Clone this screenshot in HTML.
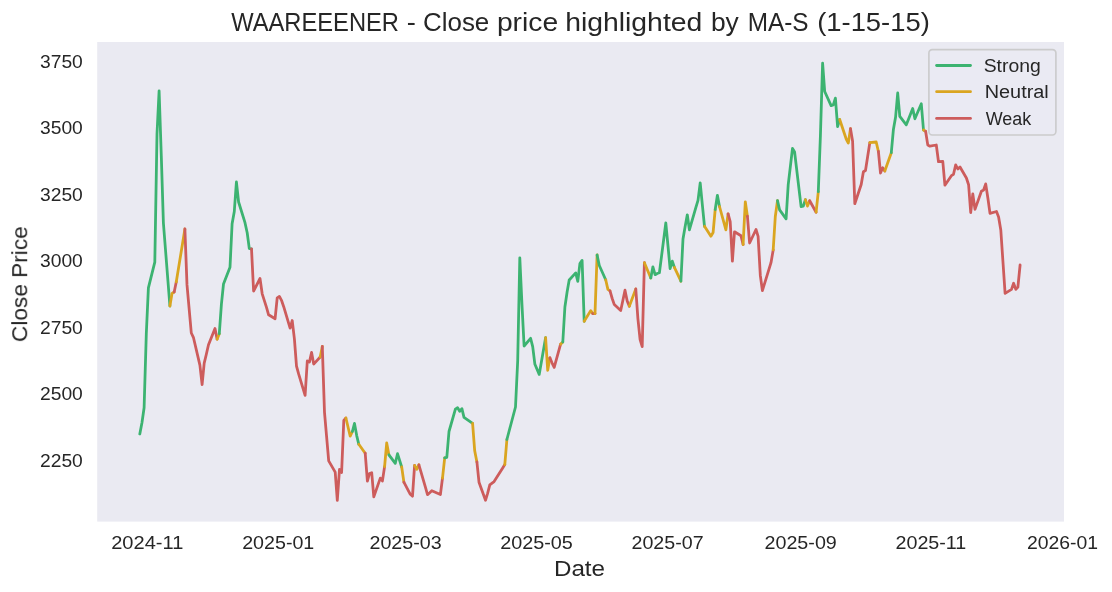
<!DOCTYPE html>
<html><head><meta charset="utf-8"><title>WAAREEENER</title>
<style>html,body{margin:0;padding:0;background:#fff;}svg{display:block;}</style></head>
<body><svg width="1112" height="592" viewBox="0 0 1112 592">
<rect x="0" y="0" width="1112" height="592" fill="#ffffff"/>
<rect x="97.2" y="42.0" width="966.8" height="479.6" fill="#EAEAF2"/>
<g fill="none" stroke-width="2.78" stroke-linecap="round" stroke-linejoin="round">
<path d="M139.8 434.0 L142.0 422.5 L144.1 407.8 L146.3 334.0 L148.4 287.9 L154.8 262.2 L157.0 134.0 L159.1 90.8 L161.3 156.0 L163.4 223.0 L169.9 306.0" stroke="#3CB371"/>
<path d="M169.9 306.0 L172.0 293.4 L174.2 292.0" stroke="#DAA520"/>
<path d="M174.2 292.0 L176.3 281.8" stroke="#CD5C5C"/>
<path d="M176.3 281.8 L184.9 229.0" stroke="#DAA520"/>
<path d="M184.9 229.0 L187.0 284.9 L191.3 333.0 L193.5 337.7 L199.9 365.1 L202.1 384.6 L204.2 363.1 L206.4 354.0 L208.5 344.8 L215.0 328.5 L217.1 339.2" stroke="#CD5C5C"/>
<path d="M217.1 339.2 L219.3 333.7" stroke="#DAA520"/>
<path d="M219.3 333.7 L221.4 304.3 L223.5 284.0 L230.0 267.2 L232.1 223.7 L234.3 211.5 L236.4 182.0 L238.6 202.0 L245.0 222.7 L247.2 232.8 L249.3 248.6 L251.5 248.8" stroke="#3CB371"/>
<path d="M251.5 248.8 L253.6 291.0 L260.0 278.5 L262.2 293.8 L266.5 307.4 L268.6 314.8 L275.1 318.7 L277.2 297.8 L279.4 296.4 L281.5 300.3 L283.7 306.7 L290.1 328.2 L292.2 320.5 L294.4 338.8 L296.5 366.1 L298.7 374.2 L305.1 395.4 L307.3 361.0 L309.4 362.1 L311.6 352.4 L313.7 364.1 L320.2 357.0" stroke="#CD5C5C"/>
<path d="M320.2 357.0 L322.3 346.4" stroke="#DAA520"/>
<path d="M322.3 346.4 L324.5 412.3 L326.6 436.6 L328.7 460.9 L335.2 472.1 L337.3 500.4 L339.5 469.4 L341.6 472.5 L343.8 420.4 L345.9 418.0" stroke="#CD5C5C"/>
<path d="M345.9 418.0 L350.2 436.2 L352.4 431.5" stroke="#DAA520"/>
<path d="M352.4 431.5 L354.5 423.4 L356.7 435.6 L358.8 444.3" stroke="#3CB371"/>
<path d="M358.8 444.3 L365.2 453.2" stroke="#DAA520"/>
<path d="M365.2 453.2 L367.4 481.2 L369.5 473.5 L371.7 472.7 L373.8 496.9 L380.3 478.1 L382.4 481.0 L384.6 466.6" stroke="#CD5C5C"/>
<path d="M384.6 466.6 L386.7 442.9 L388.9 454.8" stroke="#DAA520"/>
<path d="M388.9 454.8 L395.3 463.3 L397.5 453.7 L401.7 467.0" stroke="#3CB371"/>
<path d="M401.7 467.0 L403.9 482.2" stroke="#DAA520"/>
<path d="M403.9 482.2 L410.3 494.3 L412.5 496.2 L414.6 465.4" stroke="#CD5C5C"/>
<path d="M414.6 465.4 L416.8 469.4 L418.9 464.8" stroke="#DAA520"/>
<path d="M418.9 464.8 L425.4 487.2 L427.5 494.7 L429.7 492.7 L431.8 490.7 L440.4 494.5 L442.5 478.1" stroke="#CD5C5C"/>
<path d="M442.5 478.1 L444.7 457.9" stroke="#DAA520"/>
<path d="M444.7 457.9 L446.8 457.3 L449.0 431.5 L455.4 409.2 L457.6 407.7 L459.7 411.3 L461.9 408.6 L464.0 417.3 L472.6 423.4" stroke="#3CB371"/>
<path d="M472.6 423.4 L474.7 450.8 L476.9 461.9" stroke="#DAA520"/>
<path d="M476.9 461.9 L479.0 482.2 L485.5 500.3 L487.6 493.3 L489.8 484.8 L494.1 481.6 L502.7 468.0 L504.8 464.6" stroke="#CD5C5C"/>
<path d="M504.8 464.6 L506.9 439.5" stroke="#DAA520"/>
<path d="M506.9 439.5 L515.5 407.0 L517.7 360.8 L519.8 257.8 L522.0 305.0 L524.1 346.0 L530.6 338.3 L532.7 346.6 L534.9 364.3 L539.2 374.4 L545.6 337.7" stroke="#3CB371"/>
<path d="M545.6 337.7 L547.7 370.3 L549.9 357.8" stroke="#DAA520"/>
<path d="M549.9 357.8 L552.0 362.8 L554.2 367.4 L560.6 344.2" stroke="#CD5C5C"/>
<path d="M560.6 344.2 L562.8 342.0" stroke="#DAA520"/>
<path d="M562.8 342.0 L564.9 307.0 L567.1 292.0 L569.2 280.0 L575.7 272.9 L577.8 281.4 L579.9 263.6 L582.1 260.4 L584.2 321.3" stroke="#3CB371"/>
<path d="M584.2 321.3 L590.7 310.6 L592.8 313.6" stroke="#DAA520"/>
<path d="M592.8 313.6 L595.0 313.6" stroke="#CD5C5C"/>
<path d="M595.0 313.6 L597.1 255.0" stroke="#DAA520"/>
<path d="M597.1 255.0 L599.3 265.5 L605.7 279.8" stroke="#3CB371"/>
<path d="M605.7 279.8 L607.9 289.4 L610.0 290.9" stroke="#DAA520"/>
<path d="M610.0 290.9 L612.2 298.5 L614.3 304.6 L620.7 310.5 L622.9 300.3 L625.0 290.2 L627.2 301.0 L629.3 306.2" stroke="#CD5C5C"/>
<path d="M629.3 306.2 L635.8 289.0" stroke="#DAA520"/>
<path d="M635.8 289.0 L637.9 318.6 L640.1 339.5 L642.2 346.6 L644.4 262.7" stroke="#CD5C5C"/>
<path d="M644.4 262.7 L650.8 278.0" stroke="#DAA520"/>
<path d="M650.8 278.0 L652.9 266.8 L655.1 274.7 L657.2 273.5 L659.4 272.8 L665.8 223.0 L668.0 246.0 L670.1 268.7 L672.3 261.1 L674.4 267.4" stroke="#3CB371"/>
<path d="M674.4 267.4 L680.9 281.2" stroke="#DAA520"/>
<path d="M680.9 281.2 L683.0 238.9 L685.1 226.7 L687.3 214.8 L689.4 229.8 L695.9 207.3 L698.0 200.4 L700.2 183.0 L702.3 204.4 L704.5 226.3" stroke="#3CB371"/>
<path d="M704.5 226.3 L710.9 236.2 L713.1 232.5 L715.2 209.5" stroke="#DAA520"/>
<path d="M715.2 209.5 L717.4 195.3 L719.5 206.5" stroke="#3CB371"/>
<path d="M719.5 206.5 L725.9 229.8 L728.1 213.8" stroke="#DAA520"/>
<path d="M728.1 213.8 L730.2 221.7 L732.4 261.1 L734.5 231.8 L741.0 235.8 L743.1 244.5" stroke="#CD5C5C"/>
<path d="M743.1 244.5 L745.3 201.8 L747.4 216.1" stroke="#DAA520"/>
<path d="M747.4 216.1 L749.6 243.0 L756.0 229.5 L758.1 236.3 L760.3 275.2 L762.4 290.6 L771.0 262.7 L773.2 249.9" stroke="#CD5C5C"/>
<path d="M773.2 249.9 L775.3 216.5 L777.5 200.6" stroke="#DAA520"/>
<path d="M777.5 200.6 L779.6 209.9 L786.1 218.9 L788.2 184.9 L792.5 148.4 L794.6 152.0 L801.1 206.6 L803.2 206.2 L805.4 199.6" stroke="#3CB371"/>
<path d="M805.4 199.6 L807.5 206.1 L809.7 200.7" stroke="#DAA520"/>
<path d="M809.7 200.7 L816.1 212.2" stroke="#CD5C5C"/>
<path d="M816.1 212.2 L818.3 191.7" stroke="#DAA520"/>
<path d="M818.3 191.7 L820.4 136.0 L822.6 63.2 L824.7 91.5 L831.1 105.6 L833.3 104.9 L835.4 98.2 L837.6 126.6 L839.7 119.5" stroke="#3CB371"/>
<path d="M839.7 119.5 L846.2 139.0 L848.3 143.0 L850.5 128.7" stroke="#DAA520"/>
<path d="M850.5 128.7 L852.6 141.3 L854.8 203.7 L861.2 184.5 L863.4 171.8 L865.5 170.5 L869.8 142.7" stroke="#CD5C5C"/>
<path d="M869.8 142.7 L876.2 142.0 L878.4 151.5" stroke="#DAA520"/>
<path d="M878.4 151.5 L880.5 173.0 L882.7 167.7 L884.8 171.0" stroke="#CD5C5C"/>
<path d="M884.8 171.0 L891.3 152.7" stroke="#DAA520"/>
<path d="M891.3 152.7 L893.4 129.5 L895.6 117.0 L897.7 93.0 L899.8 116.4 L906.3 124.8 L908.4 119.4 L912.7 108.5 L914.9 118.8 L921.3 103.8 L923.5 130.0" stroke="#3CB371"/>
<path d="M923.5 130.0 L925.6 131.3" stroke="#DAA520"/>
<path d="M925.6 131.3 L927.8 145.1 L929.9 146.2 L936.3 145.0 L938.5 161.7 L942.8 161.5 L944.9 185.2 L951.4 175.7 L953.5 174.3 L955.7 164.8 L957.8 169.0 L960.0 167.0 L966.4 178.0 L968.6 184.7 L970.7 212.5 L972.8 194.0 L975.0 209.4 L981.4 191.3 L983.6 190.0 L985.7 183.9 L987.9 198.2 L990.0 213.4 L996.5 211.5 L998.6 217.0 L1000.8 230.0 L1002.9 261.0 L1005.1 293.4 L1011.5 289.4 L1013.6 283.3 L1015.8 289.4 L1017.9 287.0 L1020.1 265.0" stroke="#CD5C5C"/>
</g>
<rect x="928.9" y="49.6" width="127.0" height="85.4" rx="3.4" ry="3.4" fill="#EAEAF2" fill-opacity="0.8" stroke="#CBCBCC" stroke-width="1.65"/>
<line x1="936.6" x2="970.5" y1="65.5" y2="65.5" stroke="#3CB371" stroke-width="2.78" stroke-linecap="round"/>
<line x1="936.6" x2="970.5" y1="91.7" y2="91.7" stroke="#DAA520" stroke-width="2.78" stroke-linecap="round"/>
<line x1="936.6" x2="970.5" y1="118.4" y2="118.4" stroke="#CD5C5C" stroke-width="2.78" stroke-linecap="round"/>
<g fill="#262626" font-family='"Liberation Sans", sans-serif' style="opacity:0.999">
<text x="231.2" y="31.0" font-size="25.40" textLength="167.8" lengthAdjust="spacingAndGlyphs">WAAREEENER</text>
<text x="406.7" y="31.0" font-size="25.40" textLength="9.1" lengthAdjust="spacingAndGlyphs">-</text>
<text x="423.0" y="31.0" font-size="25.40" textLength="66.3" lengthAdjust="spacingAndGlyphs">Close</text>
<text x="496.9" y="31.0" font-size="25.40" textLength="61.2" lengthAdjust="spacingAndGlyphs">price</text>
<text x="565.2" y="31.0" font-size="25.40" textLength="137.1" lengthAdjust="spacingAndGlyphs">highlighted</text>
<text x="710.9" y="31.0" font-size="25.40" textLength="27.9" lengthAdjust="spacingAndGlyphs">by</text>
<text x="747.7" y="31.0" font-size="25.40" textLength="60.9" lengthAdjust="spacingAndGlyphs">MA-S</text>
<text x="817.2" y="31.0" font-size="25.40" textLength="112.6" lengthAdjust="spacingAndGlyphs">(1-15-15)</text>
<text x="111.2" y="549.3" font-size="17.60" textLength="72.1" lengthAdjust="spacingAndGlyphs">2024-11</text>
<text x="242.2" y="549.3" font-size="17.60" textLength="72.1" lengthAdjust="spacingAndGlyphs">2025-01</text>
<text x="369.5" y="549.3" font-size="17.60" textLength="72.1" lengthAdjust="spacingAndGlyphs">2025-03</text>
<text x="500.2" y="549.3" font-size="17.60" textLength="72.6" lengthAdjust="spacingAndGlyphs">2025-05</text>
<text x="631.5" y="549.3" font-size="17.60" textLength="72.1" lengthAdjust="spacingAndGlyphs">2025-07</text>
<text x="764.5" y="549.3" font-size="17.60" textLength="72.3" lengthAdjust="spacingAndGlyphs">2025-09</text>
<text x="895.5" y="549.3" font-size="17.60" textLength="70.8" lengthAdjust="spacingAndGlyphs">2025-11</text>
<text x="1027.0" y="549.3" font-size="17.60" textLength="71.1" lengthAdjust="spacingAndGlyphs">2026-01</text>
<text x="983.7" y="71.7" font-size="17.60" textLength="57.1" lengthAdjust="spacingAndGlyphs">Strong</text>
<text x="984.7" y="97.9" font-size="17.60" textLength="64.1" lengthAdjust="spacingAndGlyphs">Neutral</text>
<text x="985.7" y="125.0" font-size="17.60" textLength="45.5" lengthAdjust="spacingAndGlyphs">Weak</text>
<text x="553.9" y="576.4" font-size="21.20" textLength="51.2" lengthAdjust="spacingAndGlyphs">Date</text>
<text x="40.0" y="67.9" font-size="17.60" textLength="42.8" lengthAdjust="spacingAndGlyphs">3750</text>
<text x="40.0" y="134.4" font-size="17.60" textLength="42.8" lengthAdjust="spacingAndGlyphs">3500</text>
<text x="40.0" y="200.8" font-size="17.60" textLength="42.8" lengthAdjust="spacingAndGlyphs">3250</text>
<text x="40.0" y="267.3" font-size="17.60" textLength="42.8" lengthAdjust="spacingAndGlyphs">3000</text>
<text x="40.0" y="333.8" font-size="17.60" textLength="42.8" lengthAdjust="spacingAndGlyphs">2750</text>
<text x="40.0" y="400.3" font-size="17.60" textLength="42.8" lengthAdjust="spacingAndGlyphs">2500</text>
<text x="40.0" y="466.7" font-size="17.60" textLength="42.8" lengthAdjust="spacingAndGlyphs">2250</text>
<g transform="translate(27.2,284.1) rotate(-90)"><text x="-57.9" y="0.0" font-size="22.50" textLength="115.7" lengthAdjust="spacingAndGlyphs">Close Price</text></g>
</g>
</svg></body></html>
